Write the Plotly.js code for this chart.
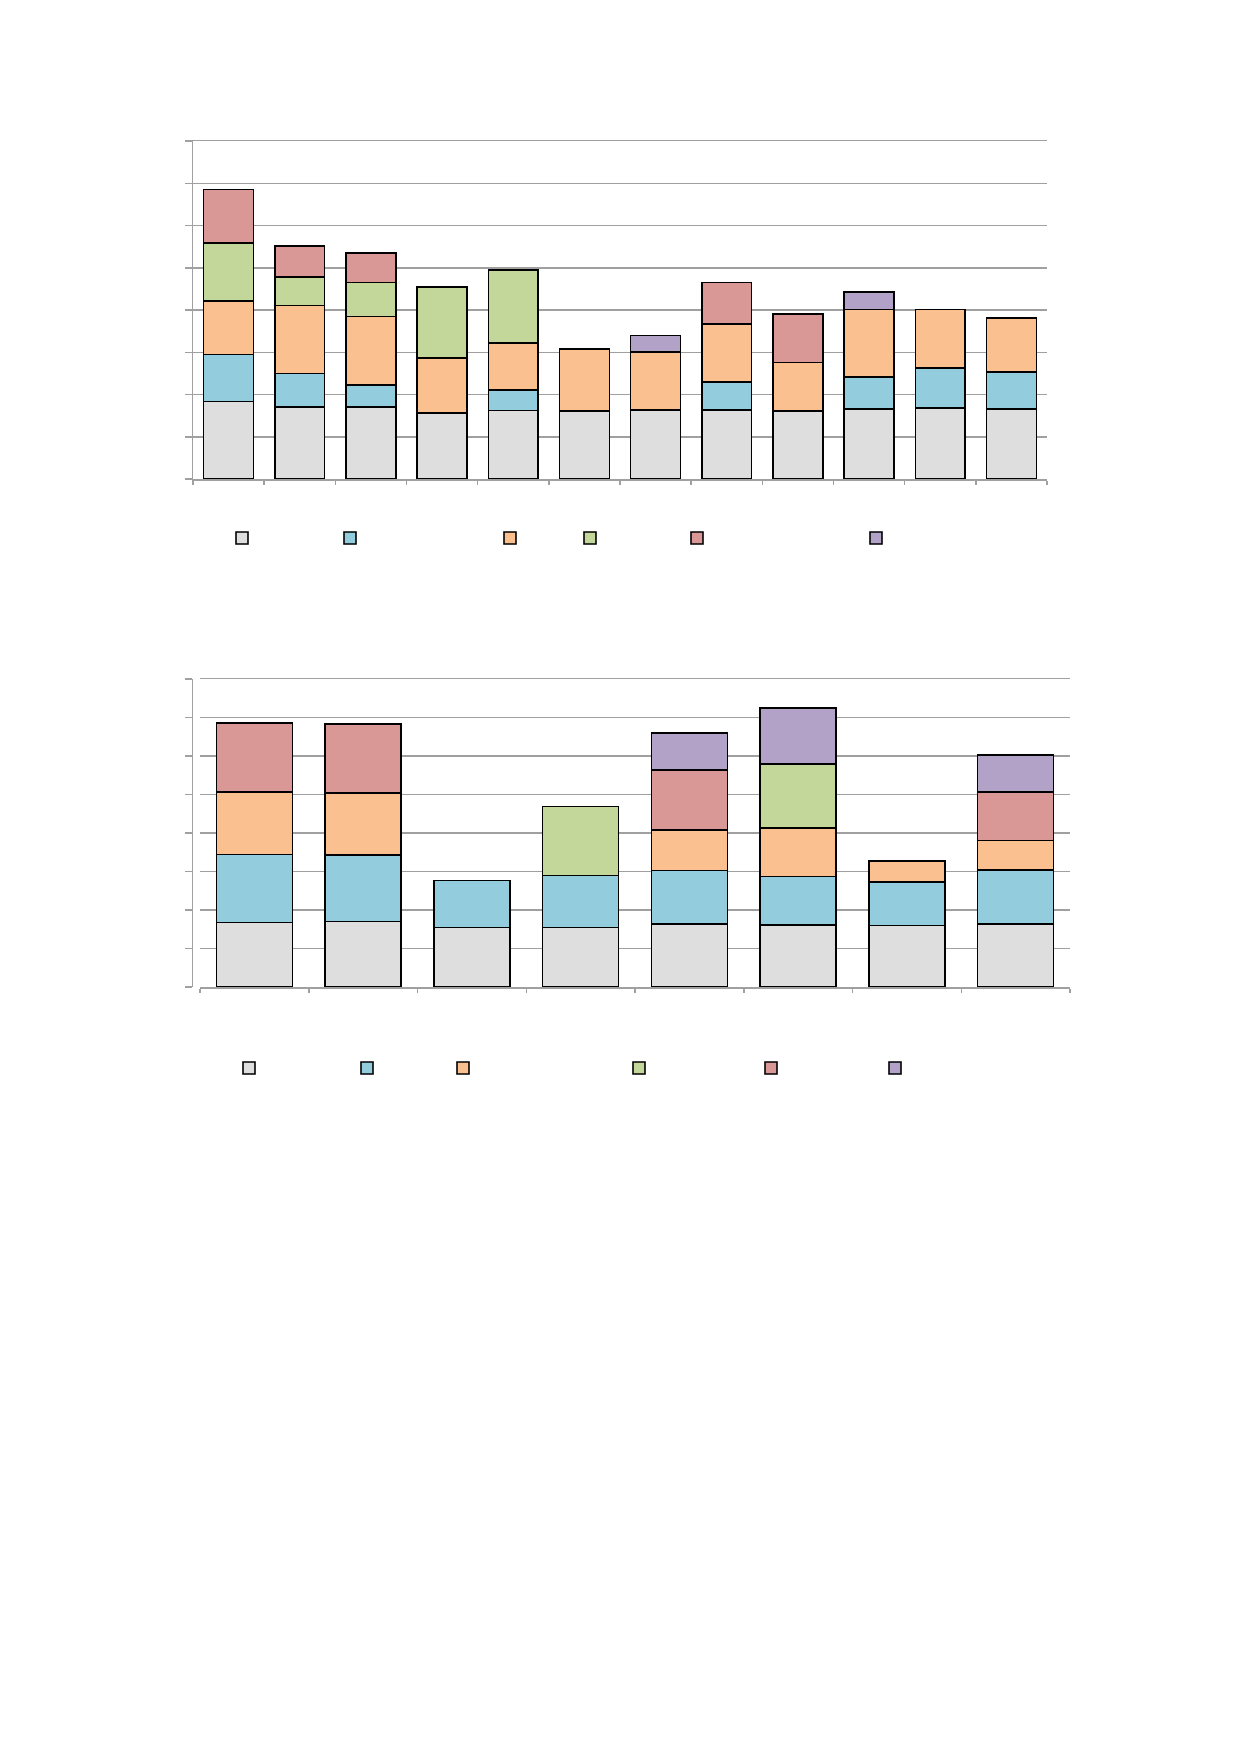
<!DOCTYPE html>
<html>
<head>
<meta charset="utf-8">
<script src="https://cdn.plot.ly/plotly-3.0.1.min.js"></script>
<style>
  html, body { margin: 0; padding: 0; background: #fff; }
  #chart { width: 1240px; height: 1754px; }
</style>
</head>
<body>
<div id="chart"></div>
<script>
// ── Data ──────────────────────────────────────────────────────────────────
// Top chart: 12 stacked columns, 6 series (null = segment absent)
const cats1 = ['1', '2', '3', '4', '5', '6', '7', '8', '9', '10', '11', '12'];
const top1Gray   = [1.83, 1.70, 1.70, 1.56, 1.62, 1.61, 1.64, 1.64, 1.61, 1.65, 1.68, 1.66];
const top1Blue   = [1.12, 0.80, 0.52, null, 0.49, null, null, 0.65, null, 0.77, 0.95, 0.87];
const top1Orange = [1.27, 1.61, 1.63, 1.31, 1.11, 1.46, 1.37, 1.38, 1.15, 1.59, 1.38, 1.28];
const top1Green  = [1.37, 0.67, 0.80, 1.68, 1.73, null, null, null, null, null, null, null];
const top1Red    = [1.26, 0.74, 0.70, null, null, null, null, 0.98, 1.15, null, null, null];
const top1Purple = [null, null, null, null, null, null, 0.39, null, null, 0.41, null, null];

// Bottom chart: 8 stacked columns, same 6 series
const cats2 = ['1', '2', '3', '4', '5', '6', '7', '8'];
const bot2Gray   = [1.68, 1.70, 1.55, 1.55, 1.63, 1.61, 1.60, 1.64];
const bot2Blue   = [1.76, 1.73, 1.22, 1.35, 1.40, 1.26, 1.12, 1.40];
const bot2Orange = [1.63, 1.61, null, null, 1.05, 1.26, 0.56, 0.77];
const bot2Green  = [null, null, null, 1.79, null, 1.67, null, null];
const bot2Red    = [1.79, 1.79, null, null, 1.55, null, null, 1.25];
const bot2Purple = [null, null, null, null, 0.96, 1.44, null, 0.97];

const colors = ['#dedede', '#93cddd', '#fac08f', '#c4d79b', '#d99795', '#b3a2c7'];

// ── Page geometry (px on a 1240x1754 page) ────────────────────────────────
const W = 1240, H = 1754;
const px = v => v / W;
const py = v => 1 - v / H;

// legend symbol centres for each chart
const legX1 = [242, 350, 510, 590, 697, 876], legY1 = 538;
const legX2 = [249, 367, 463, 639, 771, 895], legY2 = 1068;

const series1 = [top1Gray, top1Blue, top1Orange, top1Green, top1Red, top1Purple];
const series2 = [bot2Gray, bot2Blue, bot2Orange, bot2Green, bot2Red, bot2Purple];

const traces = [];
series1.forEach((vals, i) => {
  traces.push({
    type: 'bar', x: cats1, y: vals, name: '',
    xaxis: 'x', yaxis: 'y',
    legend: i === 0 ? 'legend' : 'legend' + (i + 1),
    marker: {color: colors[i], line: {color: '#000', width: 1.6}},
    hoverinfo: 'skip',
  });
});
series2.forEach((vals, i) => {
  traces.push({
    type: 'bar', x: cats2, y: vals, name: '',
    xaxis: 'x2', yaxis: 'y2',
    legend: 'legend' + (i + 7),
    marker: {color: colors[i], line: {color: '#000', width: 1.6}},
    hoverinfo: 'skip',
  });
});

const gridGray = '#a0a0a0';

function yAxis(domain) {
  return {
    domain: domain, range: [0, 8], tick0: 0, dtick: 1, fixedrange: true,
    showgrid: true, gridcolor: gridGray, gridwidth: 1.5,
    zeroline: false, showline: true, linecolor: gridGray, linewidth: 1.5,
    ticks: 'outside', ticklen: 7, tickcolor: gridGray, tickwidth: 1.5,
    showticklabels: false,
  };
}
function xAxis(domain, anchor) {
  // mirror draws the top border, which stands in for the gridline at 8
  return {
    domain: domain, anchor: anchor, type: 'category', fixedrange: true,
    showline: true, mirror: true, linecolor: gridGray, linewidth: 1.5,
    ticks: 'outside', tickson: 'boundaries', ticklen: 4,
    tickcolor: gridGray, tickwidth: 1.5, showticklabels: false,
  };
}

const layout = {
  width: W, height: H,
  margin: {t: 0, b: 0, l: 0, r: 0},
  paper_bgcolor: '#fff', plot_bgcolor: '#fff',
  barmode: 'stack', bargap: 0.3,
  showlegend: true,
  font: {family: 'Liberation Sans, Arial, sans-serif', size: 12, color: '#000'},
  xaxis:  xAxis([px(193), px(1047)], 'y'),
  yaxis:  yAxis([py(479), py(141)]),
  xaxis2: xAxis([px(200), px(1070)], 'y2'),
  yaxis2: yAxis([py(987), py(679)]),
};

// one small legend per series so each swatch sits where the original has it
const legSymOffset = 20;
function legendAt(cx, cy) {
  return {
    x: px(cx - legSymOffset), y: py(cy),
    xanchor: 'left', yanchor: 'middle',
    bgcolor: 'rgba(0,0,0,0)', borderwidth: 0,
    itemwidth: 30, itemclick: false, itemdoubleclick: false,
  };
}
legX1.forEach((cx, i) => {
  layout[i === 0 ? 'legend' : 'legend' + (i + 1)] = legendAt(cx, legY1);
});
legX2.forEach((cx, i) => {
  layout['legend' + (i + 7)] = legendAt(cx, legY2);
});

Plotly.newPlot('chart', traces, layout, {displayModeBar: false, staticPlot: true});
</script>
</body>
</html>
